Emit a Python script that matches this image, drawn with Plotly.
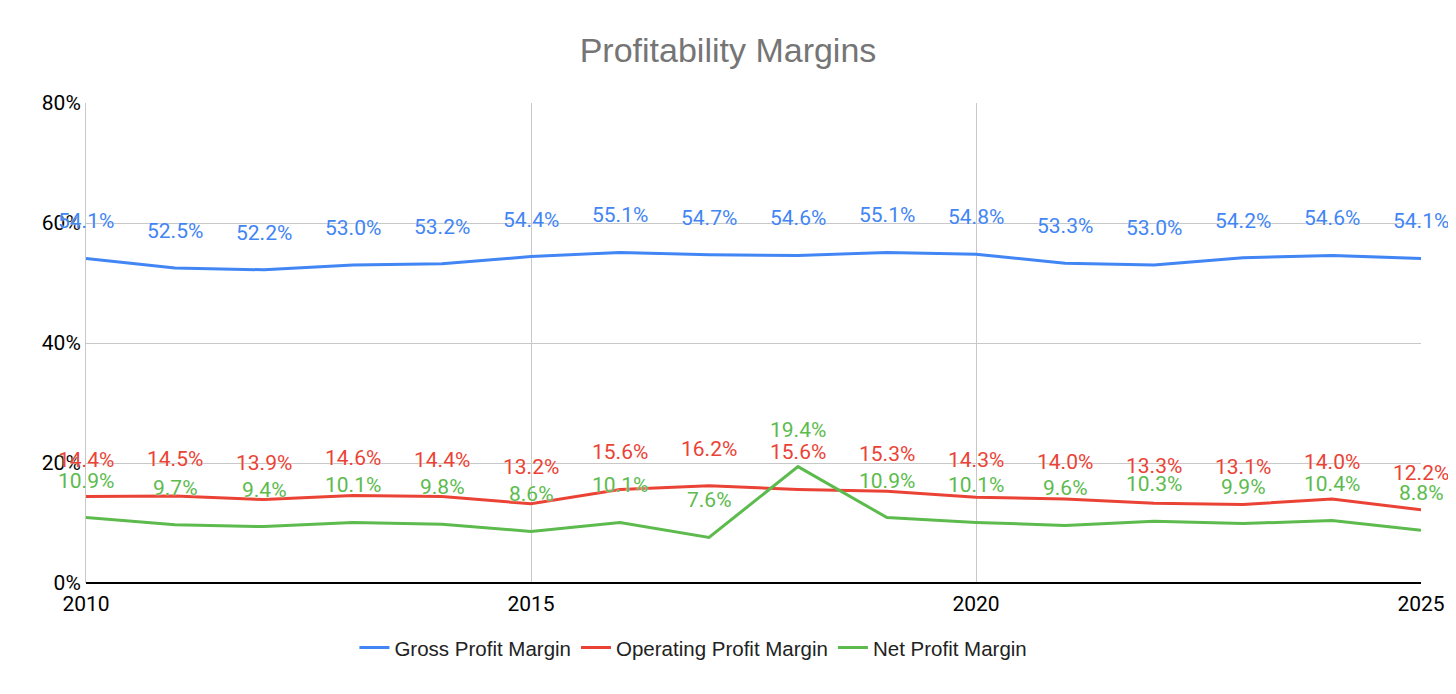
import plotly.graph_objects as go

# Data
years = list(range(2010, 2026))
gross_margin = [54.1, 52.5, 52.2, 53.0, 53.2, 54.4, 55.1, 54.7, 54.6, 55.1, 54.8, 53.3, 53.0, 54.2, 54.6, 54.1]
operating_margin = [14.4, 14.5, 13.9, 14.6, 14.4, 13.2, 15.6, 16.2, 15.6, 15.3, 14.3, 14.0, 13.3, 13.1, 14.0, 12.2]
net_margin = [10.9, 9.7, 9.4, 10.1, 9.8, 8.6, 10.1, 7.6, 19.4, 10.9, 10.1, 9.6, 10.3, 9.9, 10.4, 8.8]
x_ticks = [2010, 2015, 2020, 2025]
y_ticks = [0, 20, 40, 60, 80]

series = [
    ("Gross Profit Margin", gross_margin, "#4285F4"),
    ("Operating Profit Margin", operating_margin, "#EA4335"),
    ("Net Profit Margin", net_margin, "#5DBB4E"),
]

W, H = 1440, 678  # page has an 8px body margin

fig = go.Figure()
annotations = []
for name, vals, color in series:
    fig.add_trace(go.Scatter(
        x=years, y=vals, name=name, mode="lines",
        line=dict(color=color, width=3),
    ))
    # labels sit a bit above each point, with a white halo
    for x, v in zip(years, vals):
        annotations.append(dict(
            x=x, y=v, xref="x", yref="y", text=f"{v:.1f}%",
            showarrow=False, yshift=37,
            font=dict(family="Roboto", size=21, color=color,
                      shadow="0px 0px 2px white"),
        ))

fig.update_layout(
    width=W, height=H,
    paper_bgcolor="white", plot_bgcolor="white",
    margin=dict(l=78, r=27, t=95, b=103, autoexpand=False),
    title=dict(text="Profitability Margins", x=(728 - 8) / W, xref="container",
               y=1 - 42 / H, yref="container", yanchor="middle",
               font=dict(family="Liberation Sans", size=34, color="#757575")),
    legend=dict(orientation="h", x=0.455, xanchor="center",
                y=-0.135, yanchor="middle", itemwidth=30,
                font=dict(family="Liberation Sans", size=20.5, color="#222222")),
    annotations=annotations,
    font=dict(family="Roboto", size=20, color="#000000"),
)

fig.update_xaxes(
    range=[2010, 2025], tickvals=x_ticks, automargin=False,
    showgrid=True, gridcolor="#c8c8c8", gridwidth=1,
    showline=False, zeroline=False, ticks="", ticklabelstandoff=6,
    tickfont=dict(family="Roboto", size=21, color="#000000"),
)
fig.update_yaxes(
    range=[0, 80], tickvals=y_ticks, ticktext=[f"{t}%" for t in y_ticks],
    automargin=False,
    showgrid=True, gridcolor="#c8c8c8", gridwidth=1,
    zeroline=True, zerolinecolor="#000000", zerolinewidth=2,
    showline=True, linecolor="#c8c8c8",
    tickfont=dict(family="Roboto", size=21, color="#000000"),
)

fig.write_html("out.html")
